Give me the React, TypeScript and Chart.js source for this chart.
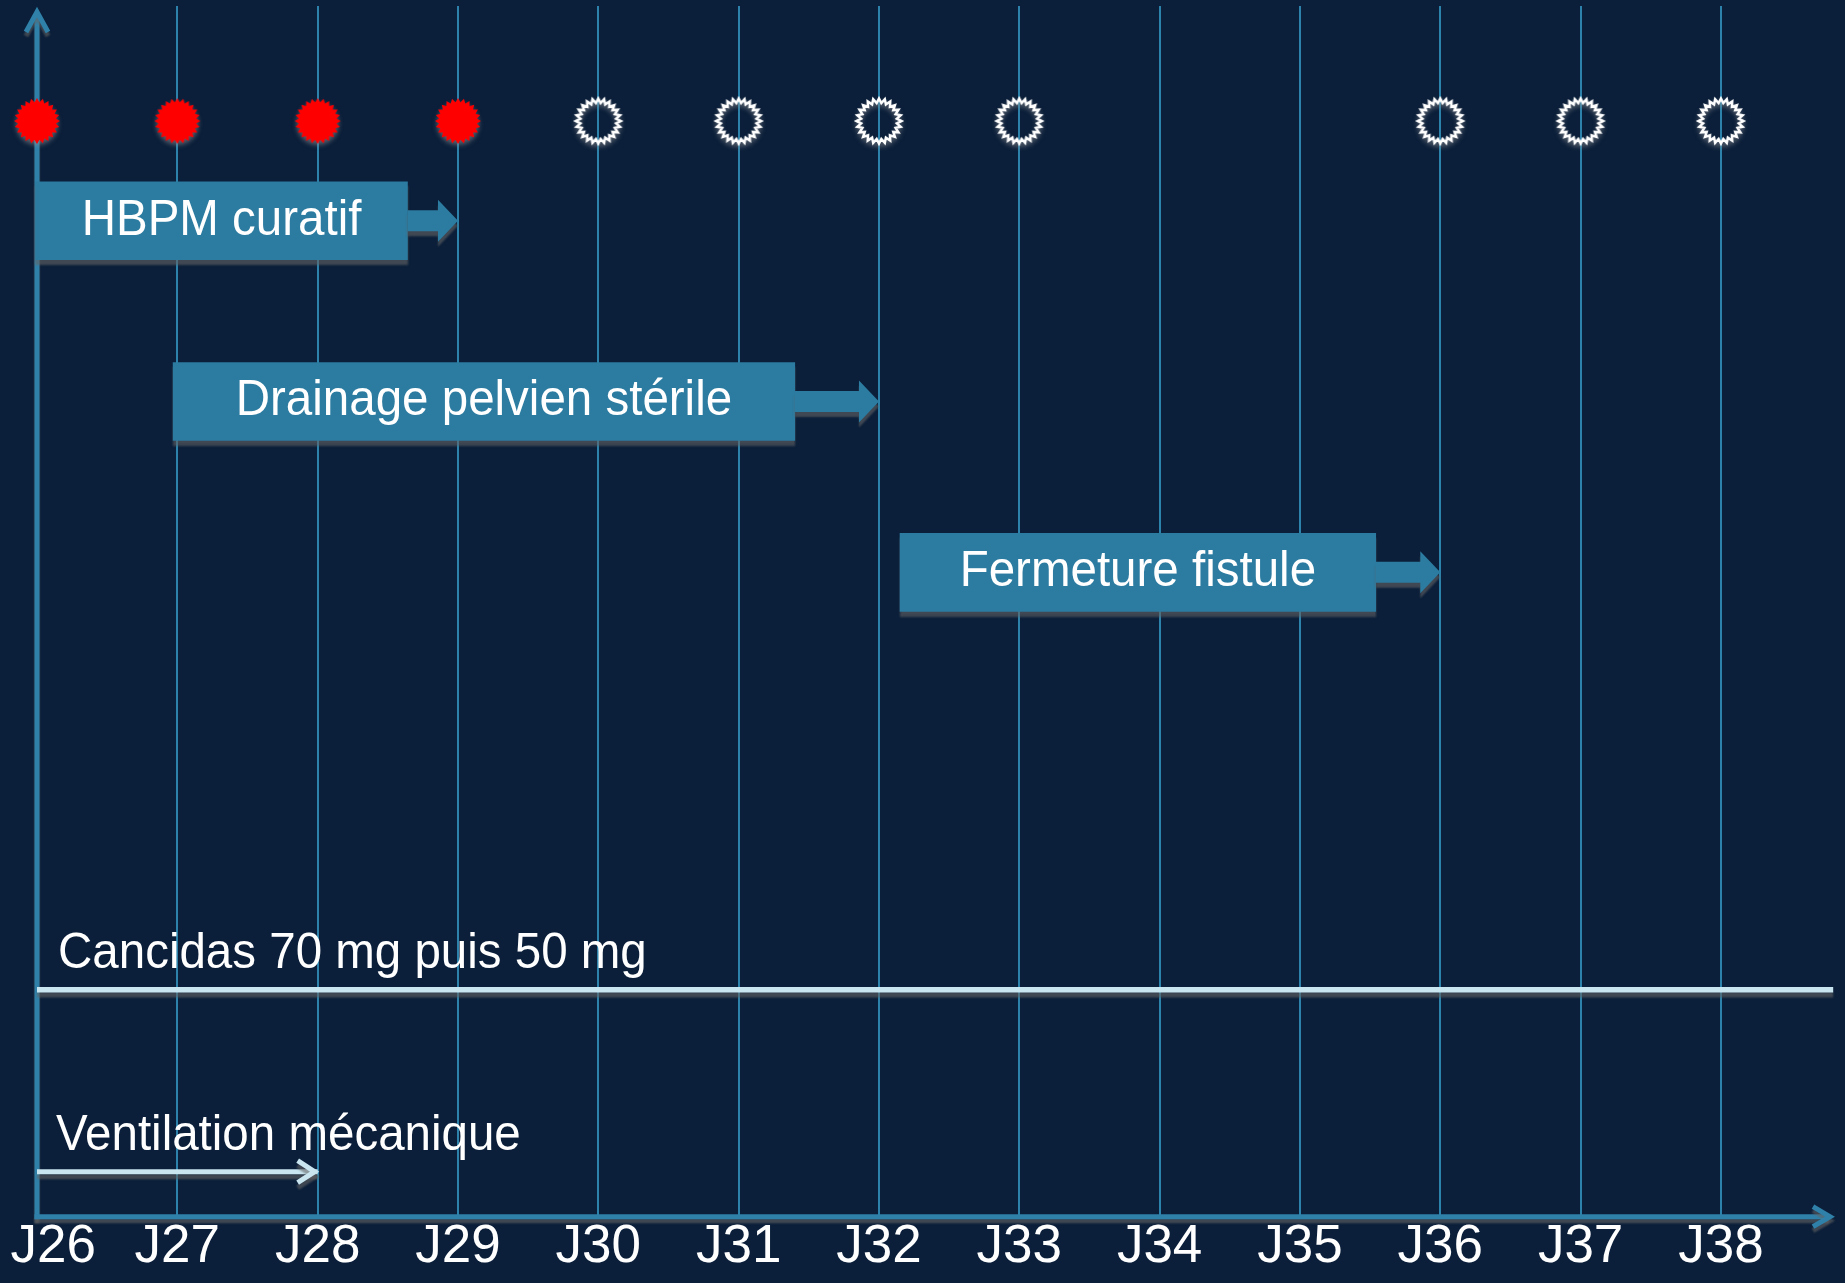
import React, { useEffect, useRef } from 'react';
import { Chart, registerables } from 'chart.js';

Chart.register(...registerables);

// ---------- data ----------
const DAYS = [26, 27, 28, 29, 30, 31, 32, 33, 34, 35, 36, 37, 38];
const TICK_LABELS = ['J26', 'J27', 'J28', 'J29', 'J30', 'J31', 'J32', 'J33', 'J34', 'J35', 'J36', 'J37', 'J38'];

const FILLED_MARKER_DAYS = [26, 27, 28, 29];
const HOLLOW_MARKER_DAYS = [30, 31, 32, 33, 36, 37, 38];

const TREATMENTS = ['HBPM curatif', 'Drainage pelvien stérile', 'Fermeture fistule'];
const TREATMENT_START = [25.99, 26.97, 32.15];
const TREATMENT_BODY_END = [28.64, 31.4, 35.54];
const TREATMENT_ARROW_END = [29, 32, 36];

const CANCIDAS_LABEL = 'Cancidas 70 mg puis 50 mg';
const CANCIDAS_SPAN = [26, 38.8];
const VENTILATION_LABEL = 'Ventilation mécanique';
const VENTILATION_SPAN = [26, 28];

// ---------- layout (row levels on a 0..100 vertical scale) ----------
const MARKER_ROW = 90.5;
const TREATMENT_ROWS = [82.26, 67.33, 53.22];
const CANCIDAS_ROW = 18.74;
const VENTILATION_ROW = 3.72;

// ---------- styles ----------
const BG = '#0b1f3a';
const AXIS_COLOR = '#2f81aa';
const GRID_COLOR = '#2c82aa';
const BAR_COLOR = '#2c7ba0';
const LINE_COLOR = '#c8e5f0';
const SHADOW = 'rgba(100,100,100,0.6)';
const FONT = '"Liberation Sans", Arial, Helvetica, sans-serif';
const TEXT_SCALE_X = 0.95;
const FIRST_LABEL_SHIFT = 0.115;

function makeBurst(filled: boolean): HTMLCanvasElement {
  const size = 60;
  const c = document.createElement('canvas');
  c.width = size;
  c.height = size;
  const g = c.getContext('2d')!;
  const n = 24;
  const rOut = filled ? 23 : 22.5;
  const rIn = filled ? 19 : 18;
  g.beginPath();
  for (let i = 0; i < n * 2; i++) {
    const r = i % 2 === 0 ? rOut : rIn;
    const a = -Math.PI / 2 + (i * Math.PI) / n;
    const px = size / 2 + r * Math.cos(a);
    const py = size / 2 + r * Math.sin(a);
    if (i === 0) g.moveTo(px, py);
    else g.lineTo(px, py);
  }
  g.closePath();
  g.shadowColor = 'rgba(150,150,150,0.55)';
  g.shadowOffsetY = 3;
  g.shadowBlur = 4;
  if (filled) {
    g.fillStyle = '#ff0000';
    g.fill();
  } else {
    g.strokeStyle = '#ffffff';
    g.lineWidth = 2.5;
    g.lineJoin = 'miter';
    g.stroke();
  }
  return c;
}

function setShadow(ctx: CanvasRenderingContext2D, dy = 5) {
  ctx.shadowColor = SHADOW;
  ctx.shadowOffsetX = 0;
  ctx.shadowOffsetY = dy;
  ctx.shadowBlur = 2;
}

function drawCondensed(ctx: CanvasRenderingContext2D, text: string, x: number, y: number) {
  ctx.save();
  ctx.translate(x, y);
  ctx.scale(TEXT_SCALE_X, 1);
  ctx.fillText(text, 0, 0);
  ctx.restore();
}

const IDX_BARS = 2;
const IDX_VENT = 4;

const timelinePlugin = {
  id: 'timeline',
  beforeDatasetsDraw(chart: any) {
    const { ctx, chartArea } = chart;
    const xs = chart.scales.x;
    const ax = xs.getPixelForValue(DAYS[0]);
    const by = chartArea.bottom;
    ctx.save();
    setShadow(ctx, 4);
    ctx.strokeStyle = AXIS_COLOR;
    ctx.lineWidth = 5;
    ctx.lineJoin = 'miter';
    ctx.lineCap = 'butt';
    // y axis with arrow
    ctx.beginPath();
    ctx.moveTo(ax, by + 2.5);
    ctx.lineTo(ax, chartArea.top + 9);
    ctx.stroke();
    ctx.beginPath();
    ctx.moveTo(ax - 11, chartArea.top + 26);
    ctx.lineTo(ax, chartArea.top + 6);
    ctx.lineTo(ax + 11, chartArea.top + 26);
    ctx.stroke();
    // x axis with arrow
    ctx.beginPath();
    ctx.moveTo(ax - 2.5, by);
    ctx.lineTo(chartArea.right - 7, by);
    ctx.stroke();
    ctx.beginPath();
    ctx.moveTo(chartArea.right - 23, by - 10);
    ctx.lineTo(chartArea.right - 6, by);
    ctx.lineTo(chartArea.right - 23, by + 10);
    ctx.stroke();
    ctx.restore();
  },
  beforeDatasetDraw(chart: any, args: any) {
    if (args.index >= IDX_BARS) {
      chart.ctx.save();
      setShadow(chart.ctx, 5);
    }
  },
  afterDatasetDraw(chart: any, args: any) {
    if (args.index < IDX_BARS) return;
    const ctx = chart.ctx;
    const xs = chart.scales.x;
    const ys = chart.scales.y;
    if (args.index === IDX_BARS) {
      ctx.fillStyle = BAR_COLOR;
      TREATMENTS.forEach((_, i) => {
        const ex = xs.getPixelForValue(TREATMENT_BODY_END[i]);
        const tip = xs.getPixelForValue(TREATMENT_ARROW_END[i]);
        const cy = ys.getPixelForValue(TREATMENT_ROWS[i]);
        const headLen = 20;
        const shaftH = 10.5;
        const headH = 21;
        ctx.beginPath();
        ctx.moveTo(ex, cy - shaftH);
        ctx.lineTo(tip - headLen, cy - shaftH);
        ctx.lineTo(tip - headLen, cy - headH);
        ctx.lineTo(tip, cy);
        ctx.lineTo(tip - headLen, cy + headH);
        ctx.lineTo(tip - headLen, cy + shaftH);
        ctx.lineTo(ex, cy + shaftH);
        ctx.closePath();
        ctx.fill();
      });
    } else if (args.index === IDX_VENT) {
      const tip = xs.getPixelForValue(VENTILATION_SPAN[1]);
      const cy = ys.getPixelForValue(VENTILATION_ROW);
      ctx.strokeStyle = LINE_COLOR;
      ctx.lineWidth = 5;
      ctx.lineJoin = 'miter';
      ctx.beginPath();
      ctx.moveTo(tip - 20, cy - 11);
      ctx.lineTo(tip - 3, cy);
      ctx.lineTo(tip - 20, cy + 11);
      ctx.stroke();
    }
    ctx.restore();
  },
  afterDatasetsDraw(chart: any) {
    const ctx = chart.ctx;
    const xs = chart.scales.x;
    const ys = chart.scales.y;
    ctx.save();
    ctx.fillStyle = '#ffffff';
    ctx.font = `50px ${FONT}`;
    ctx.textAlign = 'center';
    ctx.textBaseline = 'middle';
    TREATMENTS.forEach((label, i) => {
      const cx = (xs.getPixelForValue(TREATMENT_START[i]) + xs.getPixelForValue(TREATMENT_BODY_END[i])) / 2;
      const cy = ys.getPixelForValue(TREATMENT_ROWS[i]);
      drawCondensed(ctx, label, cx, cy);
    });
    ctx.textAlign = 'left';
    ctx.textBaseline = 'alphabetic';
    drawCondensed(ctx, CANCIDAS_LABEL, xs.getPixelForValue(CANCIDAS_SPAN[0]) + 21, ys.getPixelForValue(CANCIDAS_ROW) - 22);
    drawCondensed(ctx, VENTILATION_LABEL, xs.getPixelForValue(VENTILATION_SPAN[0]) + 19, ys.getPixelForValue(VENTILATION_ROW) - 22);
    ctx.restore();
  },
};

export default function App() {
  const canvasRef = useRef<HTMLCanvasElement | null>(null);

  useEffect(() => {
    const canvas = canvasRef.current;
    if (!canvas) return;
    const filledBurst = makeBurst(true);
    const hollowBurst = makeBurst(false);

    const chart = new Chart(canvas, {
      type: 'scatter',
      data: {
        datasets: [
          {
            type: 'scatter',
            label: 'filled',
            data: FILLED_MARKER_DAYS.map((d) => ({ x: d, y: MARKER_ROW })),
            pointStyle: filledBurst as any,
            pointRadius: 23,
            clip: false as any,
          },
          {
            type: 'scatter',
            label: 'hollow',
            data: HOLLOW_MARKER_DAYS.map((d) => ({ x: d, y: MARKER_ROW })),
            pointStyle: hollowBurst as any,
            pointRadius: 23,
            clip: false as any,
          },
          {
            type: 'bar',
            label: 'treatments',
            indexAxis: 'y',
            data: TREATMENTS.map((_, i) => ({ x: [TREATMENT_START[i], TREATMENT_BODY_END[i]], y: TREATMENT_ROWS[i] })) as any,
            backgroundColor: BAR_COLOR,
            borderWidth: 0,
            barThickness: 78,
            clip: false as any,
          } as any,
          {
            type: 'line',
            label: 'cancidas',
            data: CANCIDAS_SPAN.map((d) => ({ x: d, y: CANCIDAS_ROW })),
            borderColor: LINE_COLOR,
            borderWidth: 5.5,
            pointRadius: 0,
            showLine: true,
            fill: false,
            borderCapStyle: 'butt',
            clip: false as any,
          },
          {
            type: 'line',
            label: 'ventilation',
            data: VENTILATION_SPAN.map((d) => ({ x: d, y: VENTILATION_ROW })),
            borderColor: LINE_COLOR,
            borderWidth: 5,
            pointRadius: 0,
            showLine: true,
            fill: false,
            borderCapStyle: 'butt',
            clip: false as any,
          },
        ],
      },
      options: {
        responsive: false,
        maintainAspectRatio: false,
        animation: false,
        events: [],
        layout: { autoPadding: false, padding: { left: 37, right: 9, top: 6, bottom: 4 } },
        plugins: {
          legend: { display: false },
          tooltip: { enabled: false },
        },
        scales: {
          x: {
            type: 'linear',
            position: 'bottom',
            min: 26,
            max: 38.82,
            offset: false,
            afterBuildTicks: (scale: any) => {
              scale.ticks = DAYS.map((d, i) => ({ value: i === 0 ? d + FIRST_LABEL_SHIFT : d }));
            },
            afterFit: (scale: any) => {
              scale.paddingLeft = 0;
              scale.paddingRight = 0;
            },
            grid: {
              offset: false,
              color: (c: any) => (c.index === 0 ? 'rgba(0,0,0,0)' : GRID_COLOR),
              lineWidth: 2,
              drawTicks: false,
            },
            border: { display: false },
            ticks: {
              autoSkip: false,
              maxRotation: 0,
              padding: 2,
              color: '#ffffff',
              font: { family: FONT, size: 53, lineHeight: 1.1 },
              callback: (_v: any, i: number) => TICK_LABELS[i],
            },
          },
          y: {
            type: 'linear',
            min: 0,
            max: 100,
            offset: false,
            display: false,
            grid: { offset: false, display: false },
            ticks: { display: false },
            afterFit: (scale: any) => {
              scale.paddingTop = 0;
              scale.paddingBottom = 0;
              scale.width = 0;
            },
          },
        },
      },
      plugins: [timelinePlugin],
    } as any);

    return () => chart.destroy();
  }, []);

  return (
    <div style={{ position: 'fixed', left: 0, top: 0, width: 1845, height: 1283, background: BG }}>
      <canvas ref={canvasRef} width={1845} height={1283} style={{ display: 'block', width: 1845, height: 1283 }} />
    </div>
  );
}
